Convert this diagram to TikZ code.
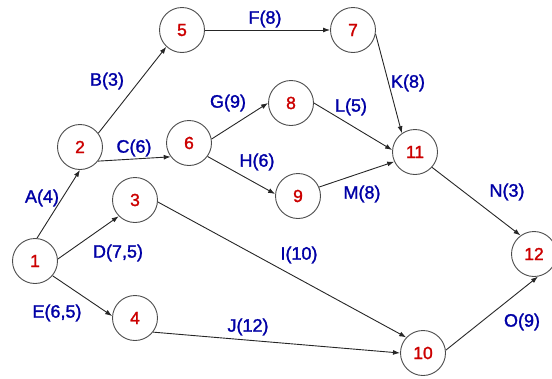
\documentclass[tikz,border=0pt]{standalone}
\usepackage{fontspec}
\setmainfont{Liberation Sans}
\newfontfamily\labfont{Liberation Sans}[FakeBold=1.5]
\usetikzlibrary{arrows.meta}
\begin{document}
\begin{tikzpicture}[x=1pt,y=-1pt,
  ev/.style={circle,draw=black!70,line width=0.9pt,fill=white,minimum size=45pt,inner sep=0pt,
    text=red!80!black,font=\fontsize{17.5}{17.5}\labfont},
  act/.style={-{Latex[length=7pt,width=5pt]},draw=black!85,line width=0.9pt},
  lab/.style={text=blue!65!black,font=\fontsize{18}{18}\labfont,inner sep=1pt}]
\useasboundingbox (0,0) rectangle (552,378);
\node[ev] (n1) at (35,261) {1};
\node[ev] (n2) at (80,147) {2};
\node[ev] (n3) at (135,200) {3};
\node[ev] (n4) at (135,318) {4};
\node[ev] (n5) at (182,30) {5};
\node[ev] (n6) at (189,143) {6};
\node[ev] (n7) at (353,30) {7};
\node[ev] (n8) at (291,103) {8};
\node[ev] (n9) at (298,196) {9};
\node[ev] (n10) at (423,353) {10};
\node[ev] (n11) at (415,152) {11};
\node[ev] (n12) at (534,254) {12};
\draw[act] (n1.85) -- (n2.-90);
\draw[act] (n2.37) -- (n5.-133);
\draw[act] (n2.-38) -- (n6.-143);
\draw[act] (n1.5) -- (n3.-135);
\draw[act] (n1.-40) -- (n4.175);
\draw[act] (n5.east) -- (n7.west);
\draw[act] (n6.10) -- (n8.180);
\draw[act] (n6.-36) -- (n9.175);
\draw[act] (n3.-5) -- (n10.137);
\draw[act] (n4.-38) -- (n10.180);
\draw[act] (n7.-10) -- (n11.125);
\draw[act] (n8.0) -- (n11.175);
\draw[act] (n9.23) -- (n11.-155);
\draw[act] (n11.-42) -- (n12.126);
\draw[act] (n10.7) -- (n12.-80);
\node[lab] (la) at (42,198) {A(4)};
\node[lab] (lb) at (107,81) {B(3)};
\node[lab] (lc) at (134,148) {C(6)};
\node[lab] (ld) at (118,253) {D(7,5)};
\node[lab] (le) at (57,313) {E(6,5)};
\node[lab] (lf) at (265,19) {F(8)};
\node[lab] (lg) at (228,103) {G(9)};
\node[lab] (lh) at (257,162) {H(6)};
\node[lab] (li) at (299,255) {I(10)};
\node[lab] (lj) at (248,327) {J(12)};
\node[lab] (lk) at (408,83) {K(8)};
\node[lab] (ll) at (351,107) {L(5)};
\node[lab] (lm) at (362,194) {M(8)};
\node[lab] (ln) at (507,192) {N(3)};
\node[lab] (lo) at (522,322) {O(9)};
\end{tikzpicture}
\end{document}
